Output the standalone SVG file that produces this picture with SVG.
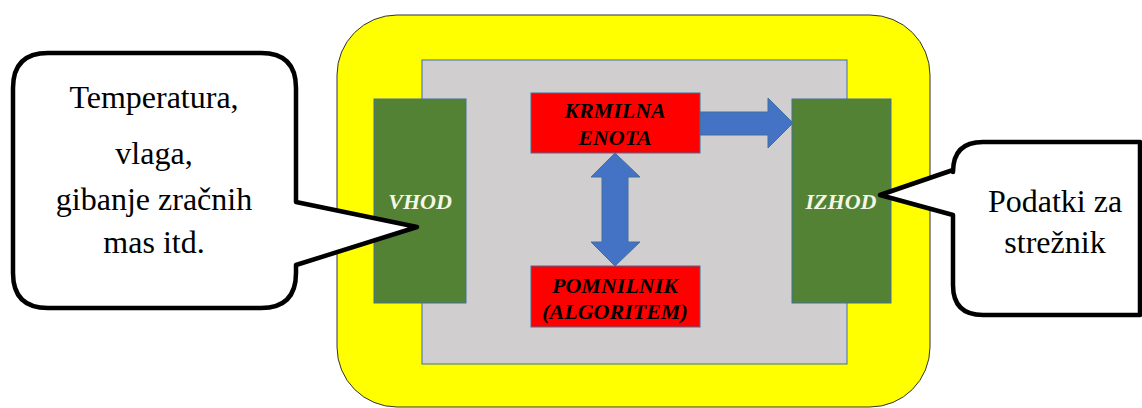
<svg xmlns="http://www.w3.org/2000/svg" width="1142" height="408" viewBox="0 0 1142 408">
<style>
.callout{fill:#ffffff;stroke:#000000;stroke-width:4.5;stroke-linejoin:round}
.ctext{font-family:'Liberation Serif','Times New Roman',serif;font-size:32px;fill:#000000;text-anchor:middle}
.green{fill:#548235;stroke:#41719c;stroke-width:1}
.red{fill:#ff0000;stroke:#41719c;stroke-width:1}
.arrow{fill:#4472c4;stroke:#41719c;stroke-width:1}
.btext{font-family:'Liberation Serif','Times New Roman',serif;font-size:22px;font-weight:bold;font-style:italic;text-anchor:middle}
.wtext{fill:#f4f7e6}
.ktext{fill:#000000}
</style>
<g id="frame">
<rect x="337" y="15" width="593" height="392" rx="60" ry="60" fill="#ffff00" stroke="#333333" stroke-width="1"/>
<rect x="422" y="60" width="425" height="304" fill="#d0cece" stroke="#41719c" stroke-width="1"/>
</g>
<g id="connectors">
<path class="arrow" d="M700,112 L768,112 L768,98 L793,123 L768,148 L768,135 L700,135 Z"/>
<path class="arrow" d="M615,153 L640,177 L628,177 L628,242 L640,242 L615,266 L591,242 L602,242 L602,177 L591,177 Z"/>
</g>
<g id="vhod">
<rect class="green" x="374" y="99" width="92" height="204"/>
<text class="btext wtext" x="420" y="209">VHOD</text>
</g>
<g id="izhod">
<rect class="green" x="792" y="99" width="99" height="204"/>
<text class="btext wtext" x="841" y="209">IZHOD</text>
</g>
<g id="krmilna">
<rect class="red" x="531" y="93" width="169" height="60"/>
<text class="btext ktext" x="615" y="118">KRMILNA</text>
<text class="btext ktext" x="615" y="145">ENOTA</text>
</g>
<g id="pomnilnik">
<rect class="red" x="531" y="266" width="169" height="61"/>
<text class="btext ktext" x="615" y="293">POMNILNIK</text>
<text class="btext ktext" x="615" y="319">(ALGORITEM)</text>
</g>
<g id="callout-left">
<path class="callout" d="M48,53 L261,53 Q296,53 296,88 L296,202 L417,227 L296,265 L296,273 Q296,308 261,308 L48,308 Q13,308 13,273 L13,88 Q13,53 48,53 Z"/>
<text class="ctext" x="154" y="108">Temperatura,</text>
<text class="ctext" x="154" y="164">vlaga,</text>
<text class="ctext" x="154" y="210">gibanje zračnih</text>
<text class="ctext" x="154" y="253">mas itd.</text>
</g>
<g id="callout-right">
<path class="callout" d="M983,142 L1140,142 L1140,315 L983,315 Q953,315 953,285 L953,215 L880,195 L953,170 L953,172 Q953,142 983,142 Z"/>
<text class="ctext" x="1055" y="212" font-size="33">Podatki za</text>
<text class="ctext" x="1055" y="253" font-size="33">strežnik</text>
</g>
</svg>
